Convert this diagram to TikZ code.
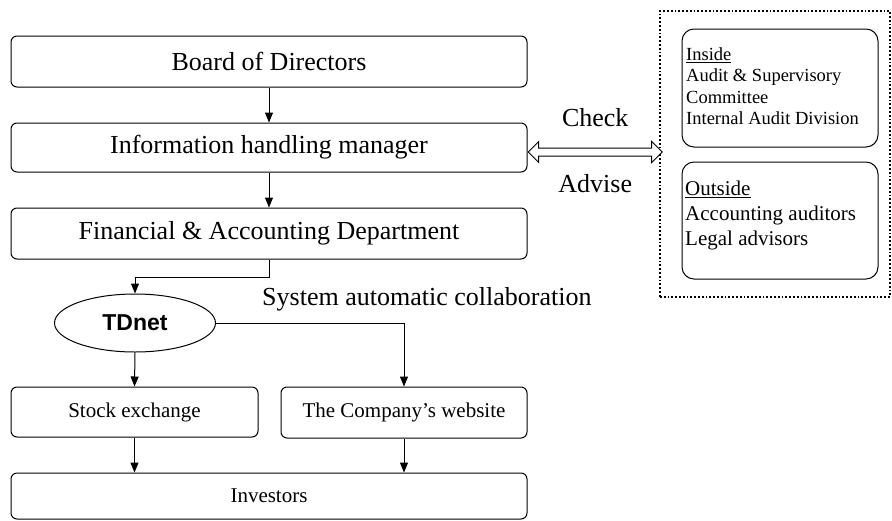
\documentclass[tikz,border=0pt]{standalone}
\usepackage{fontspec}
\setmainfont{Liberation Serif}
\newfontfamily\tdfont{Liberation Sans}
\usetikzlibrary{arrows.meta,shapes.geometric,shapes.arrows,positioning}

\tikzset{
  box/.style={draw, line width=1pt, rounded corners=6pt, inner sep=0pt,
    minimum height=51pt, font=\fontsize{26}{30}\selectfont},
  smallbox/.style={box, font=\fontsize{21}{25}\selectfont},
  flow/.style={line width=1pt, -{Triangle[length=10pt,width=8pt]}},
  bigtext/.style={inner sep=0pt, font=\fontsize{26}{30}\selectfont}
}

\begin{document}
\begin{tikzpicture}[x=1pt, y=-1pt]
  \useasboundingbox (0,0) rectangle (892,520);

  % chain on the left
  \node[box, minimum width=516pt] (board) at (269,61.5) {Board of Directors};
  \node[box, minimum width=516pt, minimum height=49pt] (info) at (269,147.5) {Information handling manager};
  \node[box, minimum width=516pt] (fin) at (269,233.5) {Financial \& Accounting Department};

  \node[draw, line width=1pt, ellipse, minimum width=161pt, minimum height=58pt, inner sep=0pt,
    font=\tdfont\bfseries\fontsize{23}{26}\selectfont] (tdnet) at (135,323) {TDnet};

  \node[smallbox, minimum width=247pt, minimum height=50pt] (stock) at (134.5,412) {Stock exchange};
  \node[smallbox, minimum width=246pt, minimum height=51pt] (web) at (404,412.5) {The Company's website};
  \node[smallbox, minimum width=516pt, minimum height=46pt] (inv) at (269,496) {Investors};

  \node[bigtext, anchor=base west] (auto) at (262,305) {System automatic collaboration};

  % review side
  \node[draw, dotted, line width=1.8pt, minimum width=230pt, minimum height=286pt, inner sep=0pt] (review) at (775,154) {};
  \node[draw, line width=1pt, rounded corners=12pt, minimum width=196pt, minimum height=118pt] (inside) at (780,88) {};
  \node[draw, line width=1pt, rounded corners=12pt, minimum width=196pt, minimum height=117pt] (outside) at (780,220.5) {};
  \node[anchor=north west, inner sep=0pt, align=left, font=\fontsize{18.5}{21.4}\selectfont] (insidetxt) at (686,47.5)
    {\underline{Inside}\\Audit \& Supervisory\\Committee\\Internal Audit Division};
  \node[anchor=north west, inner sep=0pt, align=left, font=\fontsize{21}{25}\selectfont] (outsidetxt) at (685,181)
    {\underline{Outside}\\Accounting auditors\\Legal advisors};

  % check / advise
  \node[double arrow, draw, line width=1pt, fill=white, inner sep=3.5pt, double arrow head extend=6.5pt,
    minimum height=134pt, anchor=west] (checkarrow) at (info.east |- 0,152) {};
  \node[bigtext, above=21pt of checkarrow.north] (check) {Check};
  \node[bigtext, below=18pt of checkarrow.south] (advise) {Advise};

  % connectors
  \draw[flow] (board) -- (info);
  \draw[flow] (info) -- (fin);
  \draw[flow] (fin.south) -- ++(0,18) -| (tdnet.north);
  \draw[flow] (tdnet.east) -| (web.north);
  \draw[flow] (tdnet.south) -- (stock.north);
  \draw[flow] (stock.south) -- (stock.south |- inv.north);
  \draw[flow] (web.south) -- (web.south |- inv.north);
\end{tikzpicture}
\end{document}
